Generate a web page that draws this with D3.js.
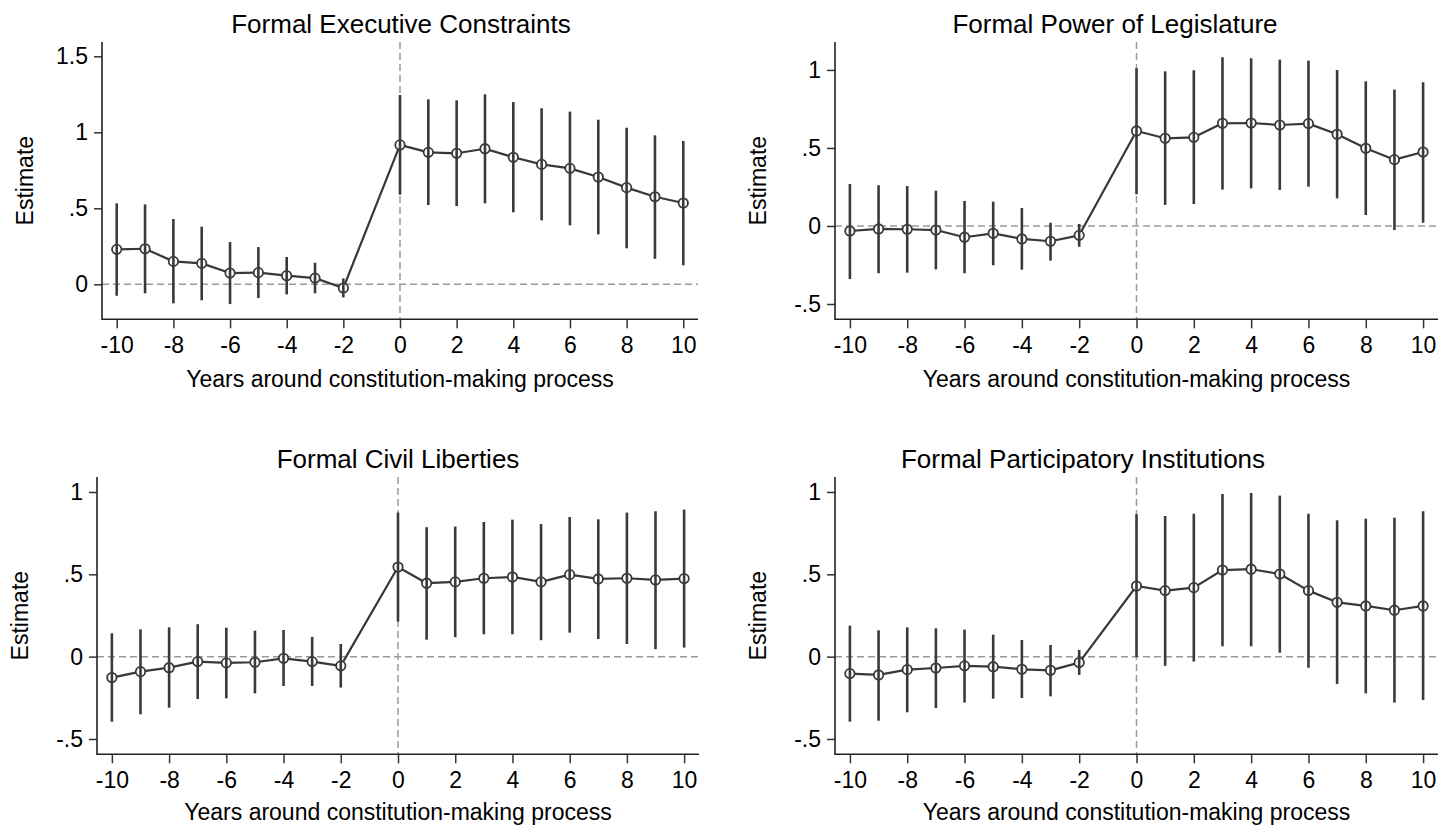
<!DOCTYPE html>
<html>
<head>
<meta charset="utf-8">
<script src="https://cdn.jsdelivr.net/npm/d3@7/dist/d3.min.js"></script>
<style>
  html, body { margin: 0; padding: 0; background: #fff; }
  svg { display: block; }
  text { font-family: "Liberation Sans", Arial, sans-serif; fill: #000; }
</style>
</head>
<body>
<svg id="chart" width="1440" height="825"></svg>
<script>
// ---------- data ----------
const years = [-10, -9, -8, -7, -6, -5, -4, -3, -2, 0, 1, 2, 3, 4, 5, 6, 7, 8, 9, 10];
const xTicks = [-10, -8, -6, -4, -2, 0, 2, 4, 6, 8, 10];

const titles = ["Formal Executive Constraints", "Formal Power of Legislature",
                "Formal Civil Liberties", "Formal Participatory Institutions"];

const execEst = [0.230, 0.234, 0.151, 0.138, 0.074, 0.077, 0.057, 0.041, -0.024,
                 0.917, 0.868, 0.862, 0.892, 0.836, 0.789, 0.763, 0.706, 0.636, 0.576, 0.535];
const execHi  = [0.533, 0.526, 0.430, 0.379, 0.278, 0.245, 0.180, 0.142, 0.039,
                 1.245, 1.217, 1.210, 1.250, 1.199, 1.158, 1.136, 1.083, 1.030, 0.980, 0.943];
const execLo  = [-0.075, -0.059, -0.125, -0.105, -0.130, -0.090, -0.066, -0.059, -0.086,
                 0.590, 0.522, 0.515, 0.533, 0.474, 0.421, 0.388, 0.329, 0.237, 0.168, 0.125];

const legEst = [-0.032, -0.019, -0.021, -0.026, -0.072, -0.047, -0.083, -0.098, -0.060,
                0.609, 0.562, 0.568, 0.658, 0.660, 0.647, 0.656, 0.588, 0.498, 0.425, 0.474];
const legHi  = [0.269, 0.261, 0.256, 0.226, 0.160, 0.156, 0.115, 0.021, 0.013,
                1.011, 0.991, 0.998, 1.081, 1.075, 1.066, 1.060, 1.000, 0.927, 0.874, 0.921];
const legLo  = [-0.340, -0.303, -0.299, -0.278, -0.303, -0.252, -0.280, -0.222, -0.133,
                0.203, 0.135, 0.141, 0.233, 0.241, 0.231, 0.252, 0.177, 0.070, -0.026, 0.021];

const civEst = [-0.127, -0.091, -0.067, -0.030, -0.038, -0.034, -0.010, -0.030, -0.056,
                0.544, 0.446, 0.454, 0.476, 0.484, 0.454, 0.498, 0.472, 0.476, 0.466, 0.474];
const civHi  = [0.142, 0.166, 0.178, 0.197, 0.176, 0.158, 0.162, 0.120, 0.077,
                0.875, 0.786, 0.790, 0.818, 0.832, 0.806, 0.848, 0.834, 0.875, 0.883, 0.893];
const civLo  = [-0.395, -0.350, -0.310, -0.257, -0.253, -0.223, -0.178, -0.178, -0.188,
                0.213, 0.103, 0.118, 0.136, 0.136, 0.100, 0.146, 0.107, 0.077, 0.045, 0.055];

const parEst = [-0.103, -0.111, -0.079, -0.069, -0.056, -0.061, -0.077, -0.083, -0.036,
                0.429, 0.401, 0.419, 0.526, 0.531, 0.502, 0.401, 0.330, 0.308, 0.282, 0.308];
const parHi  = [0.188, 0.160, 0.178, 0.172, 0.164, 0.134, 0.101, 0.071, 0.041,
                0.865, 0.854, 0.868, 0.988, 0.994, 0.978, 0.868, 0.828, 0.838, 0.844, 0.883];
const parLo  = [-0.395, -0.389, -0.338, -0.312, -0.279, -0.255, -0.251, -0.241, -0.111,
                -0.002, -0.056, -0.030, 0.063, 0.063, 0.024, -0.067, -0.166, -0.223, -0.279, -0.263];

const yTicksTop1 = [0, 0.5, 1, 1.5];
const yTicks = [-0.5, 0, 0.5, 1];
// Stata-style labels: hyphen-minus, no leading zero
const yTickLabel = v => {
  if (v === 0) return "0";
  const a = Math.abs(v);
  const s = a < 1 ? String(a).replace(/^0/, "") : String(a);
  return (v < 0 ? "-" : "") + s;
};
const xTickLabel = v => (v < 0 ? "-" : "") + String(Math.abs(v));

// ---------- layout ----------
const panels = [
  { title: titles[0], est: execEst, hi: execHi, lo: execLo, ticks: yTicksTop1,
    x0: 102, x1: 698, yTop: 42, yBot: 319.3, yDom: [-0.230, 1.594], titleX: 401, titleY: 33, xtY: 387 },
  { title: titles[1], est: legEst, hi: legHi, lo: legLo, ticks: yTicks,
    x0: 835, x1: 1438, yTop: 42, yBot: 319.3, yDom: [-0.598, 1.179], titleX: 1115, titleY: 33, xtY: 387 },
  { title: titles[2], est: civEst, hi: civHi, lo: civLo, ticks: yTicks,
    x0: 97, x1: 699, yTop: 477, yBot: 754.3, yDom: [-0.593, 1.091], titleX: 398, titleY: 468, xtY: 819.5 },
  { title: titles[3], est: parEst, hi: parHi, lo: parLo, ticks: yTicks,
    x0: 835, x1: 1438, yTop: 477, yBot: 754.3, yDom: [-0.593, 1.091], titleX: 1083, titleY: 468, xtY: 819.5 }
];

const svg = d3.select("#chart");
const xDom = [-10.52, 10.52];
const FONT = '"Liberation Sans", Arial, sans-serif';

panels.forEach(p => {
  const g = svg.append("g");
  const x = d3.scaleLinear().domain(xDom).range([p.x0, p.x1]);
  const y = d3.scaleLinear().domain(p.yDom).range([p.yBot, p.yTop]);
  const data = years.map((yr, i) => ({ yr, est: p.est[i], hi: p.hi[i], lo: p.lo[i] }));

  // reference lines
  g.append("line")
    .attr("x1", p.x0).attr("x2", p.x1)
    .attr("y1", y(0)).attr("y2", y(0))
    .attr("stroke", "#9a9a9a").attr("stroke-width", 1.5)
    .attr("stroke-dasharray", "7,4");
  g.append("line")
    .attr("x1", x(0)).attr("x2", x(0))
    .attr("y1", p.yTop).attr("y2", p.yBot)
    .attr("stroke", "#9a9a9a").attr("stroke-width", 1.5)
    .attr("stroke-dasharray", "7,4");

  // axes
  const yAxis = d3.axisLeft(y).tickValues(p.ticks).tickSize(8).tickPadding(6)
    .tickFormat(yTickLabel);
  const ya = g.append("g").attr("transform", `translate(${p.x0},0)`).call(yAxis);
  ya.select(".domain").remove();
  ya.selectAll(".tick line").attr("stroke", "#333").attr("stroke-width", 1.5);
  ya.selectAll(".tick text").style("font-size", "23px").attr("fill", "#000")
    .style("font-family", FONT);

  const xAxis = d3.axisBottom(x).tickValues(xTicks).tickSize(9).tickPadding(8)
    .tickFormat(xTickLabel);
  const xa = g.append("g").attr("transform", `translate(0,${p.yBot})`).call(xAxis);
  xa.select(".domain").remove();
  xa.selectAll(".tick line").attr("stroke", "#333").attr("stroke-width", 1.5);
  xa.selectAll(".tick text").style("font-size", "23px").attr("fill", "#000")
    .style("font-family", FONT)
    .attr("dy", "0.71em");

  // axis lines
  g.append("path")
    .attr("d", `M${p.x0},${p.yTop}V${p.yBot}H${p.x1}`)
    .attr("fill", "none").attr("stroke", "#222").attr("stroke-width", 1.6);

  // connecting line
  g.append("path").datum(data)
    .attr("d", d3.line().x(d => x(d.yr)).y(d => y(d.est)))
    .attr("fill", "none").attr("stroke", "#383838").attr("stroke-width", 2.2)
    .attr("stroke-linejoin", "round");

  // markers
  g.selectAll("circle.m").data(data).enter().append("circle")
    .attr("class", "m")
    .attr("cx", d => x(d.yr)).attr("cy", d => y(d.est)).attr("r", 4.7)
    .attr("fill", "#fff").attr("stroke", "#383838").attr("stroke-width", 1.8);

  // confidence spikes
  g.selectAll("line.ci").data(data).enter().append("line")
    .attr("class", "ci")
    .attr("x1", d => x(d.yr)).attr("x2", d => x(d.yr))
    .attr("y1", d => y(d.hi)).attr("y2", d => y(d.lo))
    .attr("stroke", "#3a3a3a").attr("stroke-width", 2.6);

  // title
  g.append("text").attr("x", p.titleX).attr("y", p.titleY)
    .attr("text-anchor", "middle").style("font-size", "26px").text(p.title);

  // axis titles
  g.append("text").attr("x", (p.x0 + p.x1) / 2).attr("y", p.xtY)
    .attr("text-anchor", "middle").style("font-size", "23px")
    .text("Years around constitution-making process");
  g.append("text")
    .attr("transform", `translate(${p.x0 - 69},${(p.yTop + p.yBot) / 2}) rotate(-90)`)
    .attr("text-anchor", "middle").style("font-size", "23px").text("Estimate");
});
</script>
</body>
</html>
